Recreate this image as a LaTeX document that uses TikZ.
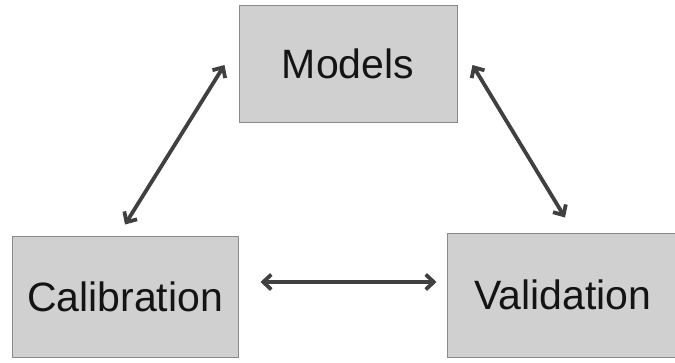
\documentclass[tikz,border=0pt]{standalone}
\usepackage{fontspec}
\setmainfont{Liberation Sans}
\usetikzlibrary{arrows.meta}
\definecolor{boxfill}{HTML}{D0D0D0}
\definecolor{boxline}{HTML}{8A8A8A}
\definecolor{arrowcol}{HTML}{404040}
\begin{document}
\begin{tikzpicture}[x=1pt,y=-1pt,
  box/.style={draw=boxline, fill=boxfill, line width=1pt, inner sep=0pt,
    font=\fontsize{41}{48}\selectfont, text=black!92},
  link/.style={draw=arrowcol, line width=3.8pt,
    {Straight Barb[length=8pt,width=15pt]}-{Straight Barb[length=8pt,width=15pt]}}]
\clip (0,0) rectangle (675,362);
\useasboundingbox (0,0) rectangle (675,362);
\node[box, minimum width=218pt, minimum height=117pt] (mod) at (348,63.5) {Models};
\node[box, minimum width=226pt, minimum height=121pt] (cal) at (125,296.5) {Calibration};
\node[box, minimum width=250pt, minimum height=124pt] (val) at (572,295) {Validation\hspace*{18pt}};
\draw[link] ([yshift=11pt]cal.north) -- ([xshift=-14pt,yshift=-1.5pt]mod.west);
\draw[link] ([xshift=15pt,yshift=-1.5pt]mod.east) -- ([xshift=-7pt,yshift=15pt]val.north);
\draw[link] ([xshift=22pt,yshift=14.5pt]cal.east) -- ([xshift=-10pt,yshift=13pt]val.west);
\end{tikzpicture}
\end{document}
